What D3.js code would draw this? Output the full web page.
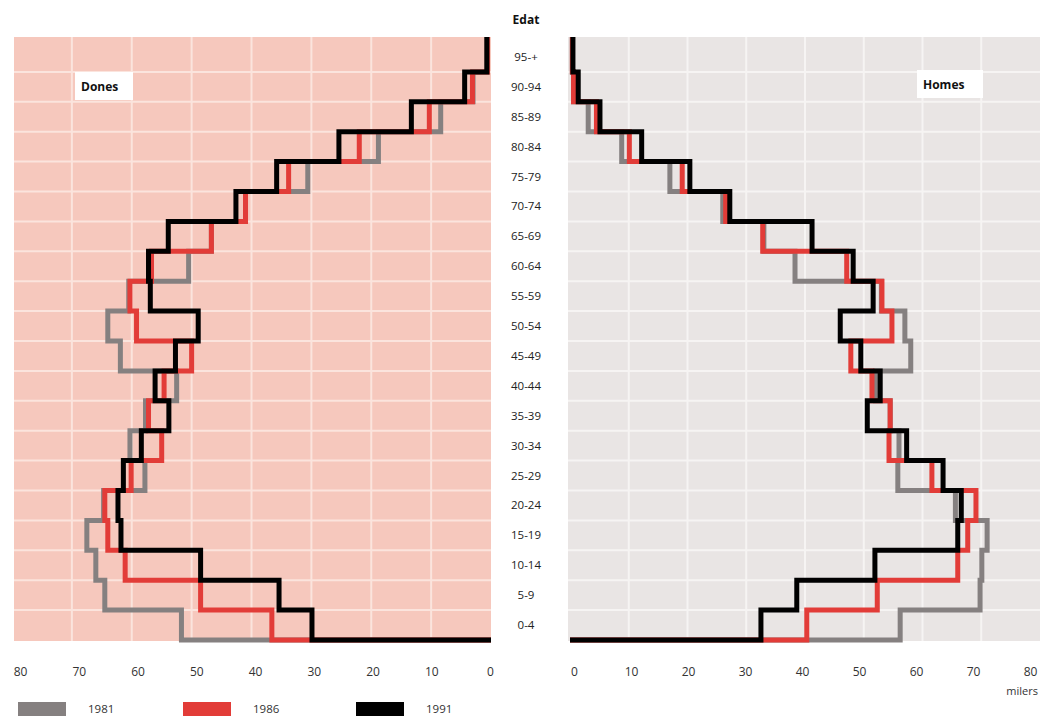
<!DOCTYPE html>
<html>
<head>
<meta charset="utf-8">
<script src="https://cdn.jsdelivr.net/npm/d3@7"></script>
<style>
  html, body { margin: 0; padding: 0; background: #fff; }
  svg { display: block; font-family: "Open Sans", "Noto Sans", sans-serif; }
</style>
</head>
<body>
<svg id="chart" width="1057" height="717"></svg>
<script>
// Age groups, bottom to top
const ages = ["0-4","5-9","10-14","15-19","20-24","25-29","30-34","35-39","40-44","45-49",
              "50-54","55-59","60-64","65-69","70-74","75-79","80-84","85-89","90-94","95-+"];
const years = ["1981", "1986", "1991"];
const xTicks = [0, 10, 20, 30, 40, 50, 60, 70, 80];

// Dones (women), thousands
const dones1981 = [51.7, 64.5, 66.0, 67.5, 64.7, 57.8, 60.3, 57.7, 52.5, 61.9,
                   64.0, 60.5, 50.5, 46.7, 41.0, 30.6, 18.8, 8.4, 3.0, 0.6];
const dones1986 = [36.6, 48.5, 61.1, 64.0, 64.5, 60.1, 55.0, 57.2, 54.6, 50.0,
                   59.2, 60.3, 56.7, 46.7, 41.0, 33.8, 22.0, 10.3, 3.1, 0.6];
const dones1991 = [29.9, 35.4, 48.5, 61.8, 62.3, 61.4, 58.4, 53.8, 56.1, 52.7,
                   48.9, 56.9, 57.2, 53.9, 42.6, 35.8, 25.4, 13.3, 4.4, 0.7];

// Homes (men), thousands
const homes1981 = [56.2, 69.8, 70.1, 71.0, 65.6, 55.8, 56.0, 54.5, 52.0, 58.0,
                   57.0, 53.0, 38.3, 33.0, 26.0, 17.0, 8.8, 3.1, 0.6, 0.4];
const homes1986 = [40.3, 52.3, 66.0, 67.7, 69.1, 61.6, 54.3, 54.5, 51.4, 47.8,
                   54.8, 53.1, 47.1, 32.8, 26.5, 19.1, 10.1, 4.5, 0.6, 0.4];
const homes1991 = [32.5, 38.6, 51.9, 66.0, 66.6, 63.5, 57.3, 50.6, 52.8, 49.5,
                   46.0, 51.6, 48.2, 41.2, 27.2, 20.4, 12.2, 5.1, 1.4, 0.5];

const colors = ["#858080", "#e23c38", "#000000"];

const svg = d3.select("#chart");

// Scales
const yBand = d3.scaleBand().domain(ages).range([640, 42]).paddingInner(0).paddingOuter(0);
const xL = d3.scaleLinear().domain([0, 80]).range([491, 12]);
const xR = d3.scaleLinear().domain([0, 80]).range([570, 1040]);
// tick-label placement scales (labels sit slightly inset from the grid)
const xLlab = d3.scaleLinear().domain([0, 80]).range([490, 20]);
const xRlab = d3.scaleLinear().domain([0, 80]).range([574, 1030]);

const panelTop = 37, panelBottom = 641;

function drawPanel(x, xlab, bg, gridCol, x0, x1, series, label, labelBox) {
  const g = svg.append("g");
  g.append("rect").attr("x", Math.min(x0, x1)).attr("y", panelTop)
    .attr("width", Math.abs(x1 - x0)).attr("height", panelBottom - panelTop)
    .attr("fill", bg);
  // vertical grid
  g.selectAll("line.v").data(xTicks.slice(1, 8)).enter().append("line")
    .attr("x1", d => x(d)).attr("x2", d => x(d))
    .attr("y1", panelTop).attr("y2", panelBottom)
    .attr("stroke", gridCol).attr("stroke-width", 2);
  // horizontal grid at row boundaries
  g.selectAll("line.h").data(ages.slice(0, ages.length - 1)).enter().append("line")
    .attr("x1", Math.min(x0, x1)).attr("x2", Math.max(x0, x1))
    .attr("y1", d => yBand(d)).attr("y2", d => yBand(d))
    .attr("stroke", gridCol).attr("stroke-width", 2);

  // label box
  g.append("rect").attr("x", labelBox[0]).attr("y", labelBox[1])
    .attr("width", labelBox[2]).attr("height", labelBox[3]).attr("fill", "#fff");
  g.append("text").attr("x", labelBox[0] + 6).attr("y", labelBox[1] + 19)
    .attr("font-size", 12).attr("font-weight", 700).attr("fill", "#111").text(label);

  // step lines
  series.forEach((vals, i) => {
    const pts = [[0, 640]];
    vals.forEach((v, k) => {
      const yb = yBand(ages[k]) + yBand.bandwidth();
      const yt = k === vals.length - 1 ? panelTop : yBand(ages[k]);
      pts.push([v, yb]);
      pts.push([v, yt]);
    });
    const line = d3.line().x(p => x(p[0])).y(p => p[1]);
    g.append("path").attr("d", line(pts))
      .attr("fill", "none").attr("stroke", colors[i])
      .attr("stroke-width", 5).attr("stroke-linejoin", "miter").attr("stroke-linecap", "butt");
  });

  // axis labels
  const axis = d3.axisBottom(xlab).tickValues(xTicks).tickSize(0).tickPadding(0);
  const ax = g.append("g").attr("transform", "translate(0,667)").call(axis);
  ax.select(".domain").remove();
  ax.selectAll("text").attr("font-size", 12).attr("fill", "#333")
    .attr("font-family", "'Open Sans', sans-serif");
}

drawPanel(xL, xLlab, "#f6c8bd", "#fbe4dd", 14, 491, [dones1981, dones1986, dones1991],
          "Dones", [75, 72, 58, 28]);
drawPanel(xR, xRlab, "#e9e5e4", "#f6f4f3", 568, 1040, [homes1981, homes1986, homes1991],
          "Homes", [917, 70, 66, 28]);

// Age labels
svg.append("text").attr("x", 526).attr("y", 24).attr("text-anchor", "middle")
  .attr("font-size", 12).attr("font-weight", 700).attr("fill", "#111").text("Edat");
svg.selectAll("text.age").data(ages).enter().append("text")
  .attr("class", "age")
  .attr("x", 526).attr("y", d => yBand(d) + yBand.bandwidth() / 2 + 4)
  .attr("text-anchor", "middle").attr("font-size", 11.5).attr("fill", "#222")
  .text(d => d);

// units
svg.append("text").attr("x", 1038).attr("y", 695).attr("text-anchor", "end")
  .attr("font-size", 11).attr("fill", "#333").text("milers");

// legend
const legX = [18, 183, 356];
years.forEach((yr, i) => {
  svg.append("rect").attr("x", legX[i]).attr("y", 702).attr("width", 48).attr("height", 14)
    .attr("fill", colors[i]);
  svg.append("text").attr("x", legX[i] + 70).attr("y", 713).attr("font-size", 11.5)
    .attr("fill", "#333").text(yr);
});
</script>
</body>
</html>
